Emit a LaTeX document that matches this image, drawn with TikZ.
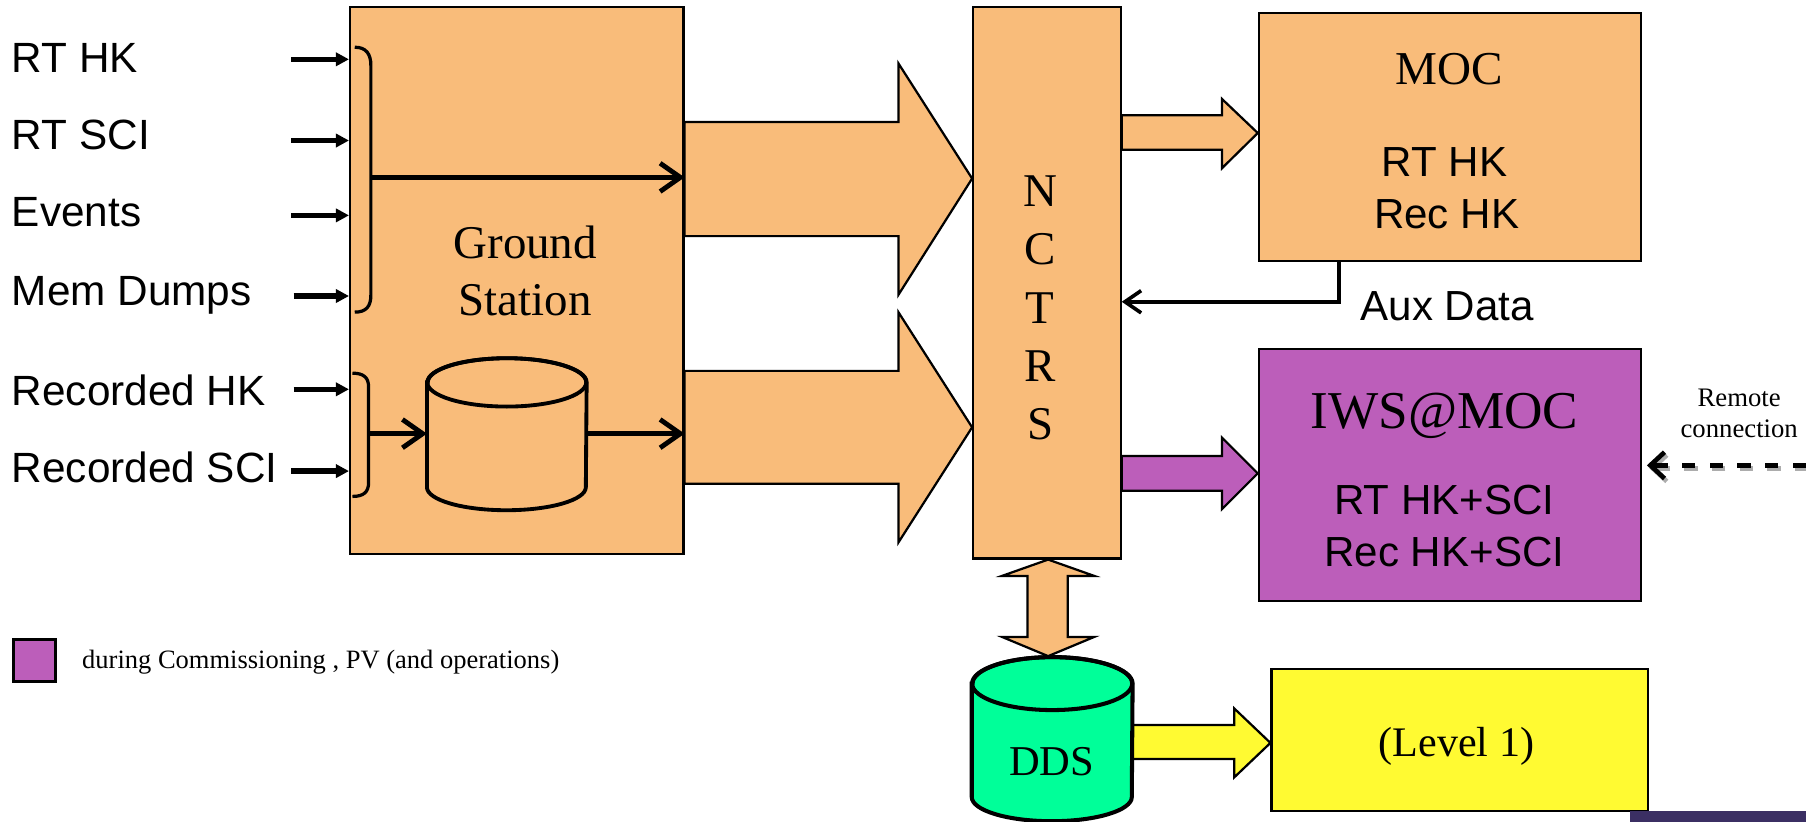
\documentclass[tikz,border=0pt]{standalone}
\usepackage{fontspec}
\setmainfont{Liberation Serif}
\newfontfamily\arialf{Liberation Sans}
\usetikzlibrary{arrows.meta,calc}
\definecolor{orng}{RGB}{249,188,122}
\definecolor{purp}{RGB}{188,94,186}
\definecolor{grn}{RGB}{0,255,153}
\definecolor{yel}{RGB}{255,250,50}
\definecolor{dstrip}{RGB}{59,47,99}
\begin{document}
\begin{tikzpicture}[x=0.02cm,y=-0.02cm,
  box/.style={draw=black, line width=1.1pt, inner sep=0pt, anchor=north west},
  blk/.style={draw=black, line width=1.1pt, line join=miter},
  cylst/.style={draw=black, line width=1.9pt},
  lbl/.style={font=\arialf\fontsize{20.9}{24}\selectfont, anchor=base west, inner sep=0pt},
  arl/.style={font=\arialf\fontsize{20.8}{24}\selectfont, anchor=base, inner sep=0pt},
  tms/.style={font=\fontsize{23.2}{27}\selectfont, anchor=base, inner sep=0pt},
  inarr/.style={line width=2.6pt, -{Triangle[length=6.5pt,width=6.5pt]}},
  barb/.style={line width=2.4pt, -{Straight Barb[length=10pt,width=14pt]}},
  auxarr/.style={line width=1.8pt, -{Straight Barb[length=8pt,width=11pt]}},
  brk/.style={line width=1.6pt},
  dsh/.style={line width=2.3pt, dash pattern=on 0.232cm off 0.248cm, -{Straight Barb[length=7pt,width=13pt]}}
]
\useasboundingbox (0,0) rectangle (1568,713);

% boxes
\node[box, fill=orng, minimum width=5.79cm, minimum height=9.5cm] (gs) at (303,5) {};
\node[box, fill=orng, minimum width=2.56cm, minimum height=9.58cm] (nctrs) at (844,5) {};
\node[box, fill=orng, minimum width=6.64cm, minimum height=4.31cm] (moc) at (1092,10) {};
\node[box, fill=purp, minimum width=6.64cm, minimum height=4.38cm] (iws) at (1092,302) {};
\node[box, fill=yel, minimum width=6.54cm, minimum height=2.46cm] (lvl) at (1103,580) {};
\node[anchor=north west, fill=dstrip, inner sep=0pt, minimum width=3.06cm, minimum height=0.18cm] (strip) at (1415,704) {};
\node[box, fill=purp, line width=1.5pt, minimum width=0.74cm, minimum height=0.72cm] (leg) at (10,554) {};

% invisible holders for cylinders
\node[inner sep=0pt, minimum width=2.76cm, minimum height=2.64cm] (cyl) at (440,377) {};
\node[inner sep=0pt, minimum width=2.78cm, minimum height=2.86cm] (dds) at (913.5,641.5) {};

% left labels
\node[lbl] (l1) at (10,63) {RT HK};
\node[lbl] (l2) at (10,130) {RT SCI};
\node[lbl] (l3) at (10,197) {Events};
\node[lbl] (l4) at (10,265) {Mem Dumps};
\node[lbl] (l5) at (10,352) {Recorded HK};
\node[lbl] (l6) at (10,419) {Recorded SCI};

% input arrows
\coordinate (a1) at (253,51.5);
\coordinate (a2) at (253,122);
\coordinate (a3) at (253,187);
\coordinate (a4) at (255,257);
\coordinate (a5) at (255,338);
\coordinate (a6) at (253,409);
\foreach \a in {a1,a2,a3,a4,a5,a6} \draw[inarr] (\a) -- (\a -| gs.west);

% brackets
\draw[brk] (308,41) .. controls (318,41) and (322,47) .. (322,57) -- (322,256) .. controls (322,266) and (318,271) .. (308,271);
\draw[brk] (306,324) .. controls (316,324) and (320,328) .. (320,336) -- (320,419) .. controls (320,427) and (316,431) .. (306,431);

% ground station inner cylinder
\filldraw[cylst, fill=orng] (cyl.west |- 0,332) -- (cyl.west |- 0,423) arc[start angle=180,end angle=360,x radius=1.38cm,y radius=0.40cm] -- (cyl.east |- 0,332) arc[start angle=0,end angle=180,x radius=1.38cm,y radius=0.42cm] -- cycle;
\draw[cylst] (440,332) ellipse [x radius=1.38cm, y radius=0.42cm];

% inner arrows
\coordinate (b1) at (322,154);
\draw[barb] (b1) -- (b1 -| gs.east);
\coordinate (b2) at (320,376.5);
\draw[barb] (b2) -- (b2 -| cyl.west);
\draw[barb] (cyl.east |- b2) -- (b2 -| gs.east);

% Ground Station text
\node[tms] (gst1) at (456,224) {Ground};
\node[tms] (gst2) at (456,274) {Station};

% big block arrows
\filldraw[blk, fill=orng] (gs.east |- 0,106) -- (780,106) -- (780,55) -- (nctrs.west |- 0,155) -- (780,256) -- (780,205) -- (gs.east |- 0,205) -- cycle;
\filldraw[blk, fill=orng] (gs.east |- 0,322) -- (780,322) -- (780,271) -- (nctrs.west |- 0,371) -- (780,471) -- (780,420) -- (gs.east |- 0,420) -- cycle;

% NCTRS letters
\node[tms] (n1) at (903,179) {N};
\node[tms] (n2) at (903,230) {C};
\node[tms] (n3) at (903,281) {T};
\node[tms] (n4) at (903,331) {R};
\node[tms] (n5) at (903,382) {S};

% NCTRS -> MOC
\filldraw[blk, fill=orng] (nctrs.east |- 0,100) -- (1061,100) -- (1061,86) -- (moc.west |- 0,115.5) -- (1061,146) -- (1061,130) -- (nctrs.east |- 0,130) -- cycle;
% NCTRS -> IWS
\filldraw[blk, fill=purp] (nctrs.east |- 0,396) -- (1061,396) -- (1061,380) -- (iws.west |- 0,411) -- (1061,442) -- (1061,426) -- (nctrs.east |- 0,426) -- cycle;

% Aux data
\draw[auxarr] (moc.south -| 1162.5,0) |- (nctrs.east |- 0,262);
\node[arl, anchor=base west] (aux) at (1181,278) {Aux Data};

% MOC text
\node[tms, font=\fontsize{23.3}{27}\selectfont] (moct) at (1258,73) {MOC};
\node[arl] (moc1) at (1254,153) {RT HK};
\node[arl] (moc2) at (1256,198.5) {Rec HK};

% IWS text
\node[tms, font=\fontsize{26.3}{30}\selectfont] (iwst) at (1254,372) {IWS@MOC};
\node[arl] (iws1) at (1254,447) {RT HK+SCI};
\node[arl] (iws2) at (1254,492) {Rec HK+SCI};

% Remote connection
\node[font=\fontsize{13.2}{15.4}\selectfont, anchor=base, inner sep=0pt] (rem1) at (1510,353) {Remote};
\node[font=\fontsize{13.2}{15.4}\selectfont, anchor=base, inner sep=0pt] (rem2) at (1510,380) {connection};
\coordinate (rc) at (1568,404);
\draw[dsh, gray!65] ($(rc)+(2,2.5)$) -- ($(rc -| iws.east)+(6,2.5)$);
\draw[dsh, black] (rc) -- ($(rc -| iws.east)+(4,0)$);

% NCTRS <-> DDS
\filldraw[blk, fill=orng] (nctrs.south -| 910,0) -- (950,500) -- (927,500) -- (927,553) -- (950,553) -- (dds.north -| 910,0) -- (870,553) -- (892,553) -- (892,500) -- (870,500) -- cycle;

% DDS -> Level 1
\filldraw[blk, fill=yel] (dds.east |- 0,629.5) -- (1071.5,629.5) -- (1071.5,615) -- (lvl.west |- 0,645) -- (1071.5,675) -- (1071.5,659) -- (dds.east |- 0,659) -- cycle;

% DDS cylinder
\filldraw[cylst, line width=2pt, fill=grn] (dds.west |- 0,593.5) -- (dds.west |- 0,692) arc[start angle=180,end angle=360,x radius=1.39cm,y radius=0.42cm] -- (dds.east |- 0,593.5) arc[start angle=0,end angle=180,x radius=1.39cm,y radius=0.46cm] -- cycle;
\draw[cylst, line width=2pt] (913.5,593.5) ellipse [x radius=1.39cm, y radius=0.46cm];
\node[tms, font=\fontsize{21}{24}\selectfont] (ddst) at (913,673.5) {DDS};

% Level 1 text
\node[tms, font=\fontsize{20.8}{24}\selectfont] (lvlt) at (1264.5,657) {(Level 1)};

% legend
\node[anchor=west, font=\fontsize{13.1}{15}\selectfont, inner sep=0pt] (legt) at (71,574.5) {during Commissioning , PV (and operations)};
\end{tikzpicture}
\end{document}
